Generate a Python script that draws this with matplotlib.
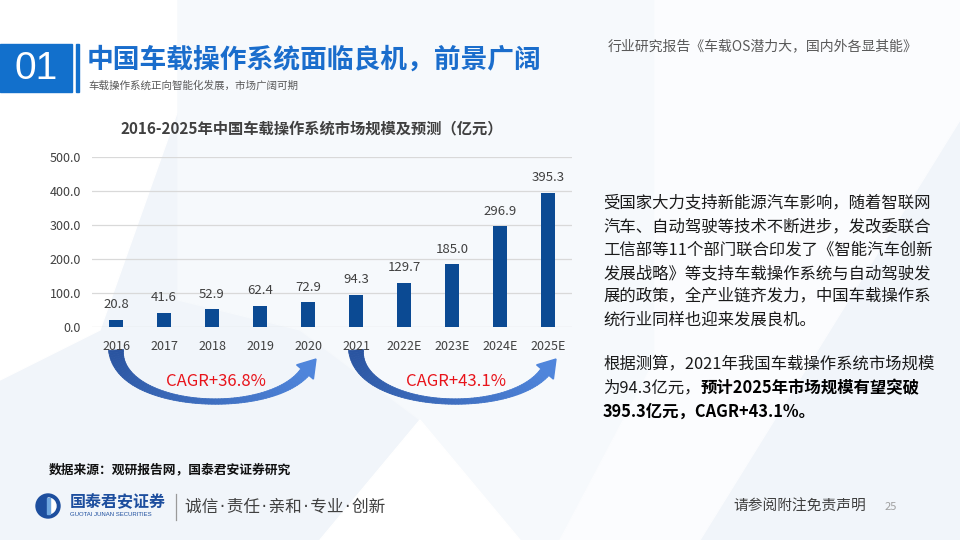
import numpy as np
import matplotlib
matplotlib.use('Agg')
import matplotlib.pyplot as plt
from matplotlib.patches import Polygon, Rectangle, Circle, Wedge
from matplotlib.collections import PolyCollection
import matplotlib.colors as mcolors

plt.rcParams['font.family'] = ['Noto Sans CJK SC', 'DejaVu Sans']

years = ['2016', '2017', '2018', '2019', '2020', '2021', '2022E', '2023E', '2024E', '2025E']
market_size = [20.8, 41.6, 52.9, 62.4, 72.9, 94.3, 129.7, 185.0, 296.9, 395.3]
y_ticks = [0, 100, 200, 300, 400, 500]
cagr_labels = ['CAGR+36.8%', 'CAGR+43.1%']
cagr_spans = [(0, 4), (5, 9)]

chart_title = '2016-2025年中国车载操作系统市场规模及预测（亿元）'
body_para1 = ['受国家大力支持新能源汽车影响，随着智联网',
              '汽车、自动驾驶等技术不断进步，发改委联合',
              '工信部等11个部门联合印发了《智能汽车创新',
              '发展战略》等支持车载操作系统与自动驾驶发',
              '展的政策，全产业链齐发力，中国车载操作系',
              '统行业同样也迎来发展良机。']

BAR = '#0b4a93'
GRAY = '#404040'

fig = plt.figure(figsize=(9.6, 5.4), dpi=100)

# full-figure axes in pixel units for the slide decoration
bg = fig.add_axes([0, 0, 1, 1], zorder=0)
bg.set_xlim(0, 960)
bg.set_ylim(540, 0)
bg.axis('off')
bg.add_patch(Rectangle((0, 0), 960, 540, color='#f1f5fa', zorder=0))
bg.add_patch(Polygon([(0, 0), (178, 0), (178, 110), (100, 330), (0, 380)], color='white', zorder=0))
bg.add_patch(Polygon([(178, 0), (655, 0), (655, 360), (560, 540), (320, 540), (420, 420),
                      (300, 330), (178, 300)], color='#f6f9fc', zorder=0))
bg.add_patch(Polygon([(655, 0), (960, 0), (960, 120), (700, 540), (560, 540), (655, 360)],
                     color='#fbfcfe', zorder=0))
bg.add_patch(Polygon([(320, 540), (420, 420), (520, 540)], color='white', zorder=0))

# header
bg.add_patch(Rectangle((0, 44), 72, 48, color='#1270cc', zorder=1))
bg.add_patch(Rectangle((75.5, 44), 3.5, 48, color='#1270cc', zorder=1))
bg.text(36, 69, '01', color='white', fontsize=28, ha='center', va='center',
        family=['Liberation Sans', 'DejaVu Sans'], zorder=2)
bg.text(87, 60, '中国车载操作系统面临良机，前景广阔', color='#1a6dcc', fontsize=19.3,
        fontweight='bold', ha='left', va='center', zorder=2)
bg.text(88, 86, '车载操作系统正向智能化发展，市场广阔可期', color='#595959', fontsize=7.6,
        ha='left', va='center', zorder=2)
bg.text(918, 46, '行业研究报告《车载OS潜力大，国内外各显其能》', color='#595959', fontsize=10,
        ha='right', va='center', zorder=2)

# chart
ax = fig.add_axes([92 / 960, 1 - 327 / 540, 480 / 960, 170 / 540], zorder=2)
ax.set_facecolor('none')
x = np.arange(len(years))
bars = ax.bar(x, market_size, width=0.31, color=BAR, zorder=3)
for xi, v in zip(x, market_size):
    ax.annotate(f'{v:.1f}', (xi, v), xytext=(0, 10.8), textcoords='offset points',
                ha='center', va='center', fontsize=9.5, color=GRAY)
ax.set_xlim(-0.5, len(years) - 0.5)
ax.set_ylim(0, 500)
ax.set_yticks(y_ticks)
ax.set_yticklabels([f'{t:.1f}' for t in y_ticks])
ax.set_xticks(x)
ax.set_xticklabels(years)
ax.tick_params(axis='both', length=0, labelsize=9, labelcolor=GRAY)
ax.tick_params(axis='y', pad=8)
ax.tick_params(axis='x', pad=9)
ax.yaxis.grid(True, color='#d9d9d9', linewidth=0.9, zorder=0)
for s in ax.spines.values():
    s.set_visible(False)

bg.text(312, 128, chart_title, color=GRAY, fontsize=11, fontweight='bold',
        ha='center', va='center', zorder=2)


def cat_px(i):
    disp = ax.transData.transform((i, 0))
    return bg.transData.inverted().transform(disp)[0]


def bezier(p0, p1, p2, p3, t):
    t = t[:, None]
    return ((1 - t) ** 3) * p0 + 3 * ((1 - t) ** 2) * t * p1 + 3 * (1 - t) * t ** 2 * p2 + t ** 3 * p3


c0 = np.array(mcolors.to_rgb('#2a54a0'))
c1 = np.array(mcolors.to_rgb('#4f85db'))
for (a, b), lab in zip(cagr_spans, cagr_labels):
    xa, xb = cat_px(a), cat_px(b)
    p0 = np.array([xa, 350.0])
    p1 = np.array([xa + 2, 410.0])
    p2 = np.array([xb - 40, 418.0])
    p3 = np.array([xb - 3, 372.0])
    t = np.linspace(0, 1, 80)
    pts = bezier(p0, p1, p2, p3, t)
    d = np.gradient(pts, axis=0)
    d /= np.linalg.norm(d, axis=1)[:, None]
    nrm = np.column_stack([-d[:, 1], d[:, 0]])
    w = 6.0 * (1 - t) ** 3 + 3.8 * t ** 3 + 1.5
    left = pts + nrm * w[:, None]
    right = pts - nrm * w[:, None]
    quads = [[left[i], left[i + 1], right[i + 1], right[i]] for i in range(len(t) - 1)]
    cols = [c0 + (c1 - c0) * ti for ti in t[:-1]]
    bg.add_collection(PolyCollection(quads, facecolors=cols, edgecolors=cols, linewidths=0.6, zorder=3))
    tip = p3 + d[-1] * 17
    hw = 11
    head = [p3 + nrm[-1] * hw, tip, p3 - nrm[-1] * hw]
    bg.add_patch(Polygon(head, closed=True, color=c1, zorder=3))
    bg.text((xa + xb) / 2 + 4, 382, lab, color='#e8141b', fontsize=12, ha='center', va='center', zorder=4)

# body text
y0 = 203
for i, line in enumerate(body_para1):
    bg.text(603, y0 + i * 23.5, line, fontsize=11.8, color='#1a1a1a', ha='left', va='center', zorder=2)

bg.text(603, 364, '根据测算，2021年我国车载操作系统市场规模', fontsize=11.8, color='#1a1a1a',
        ha='left', va='center', zorder=2)
t1 = bg.text(603, 388, '为94.3亿元，', fontsize=11.8, color='#1a1a1a', ha='left', va='center', zorder=2)
fig.canvas.draw()
bb = t1.get_window_extent()
x_next = bg.transData.inverted().transform((bb.x1, bb.y0))[0]
bg.text(x_next, 388, '预计2025年市场规模有望突破', fontsize=11.8, color='#000000', fontweight='bold',
        ha='left', va='center', zorder=2)
bg.text(603, 411.5, '395.3亿元，CAGR+43.1%。', fontsize=11.8, color='#000000', fontweight='bold',
        ha='left', va='center', zorder=2)

# footer
bg.text(49, 470, '数据来源：观研报告网，国泰君安证券研究', fontsize=9.2, color='#111111',
        fontweight='bold', ha='left', va='center', zorder=2)
bg.add_patch(Circle((48, 506), 12, color='#1d4e9e', zorder=2))
bg.add_patch(Wedge((48, 506), 8, 270, 90, color='white', zorder=3))
bg.add_patch(Rectangle((46.5, 498), 3, 16, color='#6fa7e0', zorder=4))
bg.text(70, 502, '国泰君安证券', fontsize=11.5, color='#1d4e9e', fontweight='bold',
        ha='left', va='center', zorder=2)
bg.text(70, 514, 'GUOTAI JUNAN SECURITIES', fontsize=4.3, color='#1d4e9e',
        ha='left', va='center', zorder=2, family=['Liberation Sans', 'DejaVu Sans'])
bg.plot([176, 176], [494, 520], color='#9a9a9a', lw=0.9, zorder=2)
bg.text(185, 507, '诚信\u200a·\u200a责任\u200a·\u200a亲和\u200a·\u200a专业\u200a·\u200a创新', fontsize=12,
        color='#404040', ha='left', va='center', zorder=2, family=['DejaVu Sans', 'Noto Sans CJK SC'])
bg.text(866, 507, '请参阅附注免责声明', fontsize=10.6, color='#404040',
        ha='right', va='center', zorder=2)
bg.text(885, 507, '25', fontsize=8, color='#a0a0a0', ha='left', va='center', zorder=2)

fig.savefig('out.png', dpi=100)
